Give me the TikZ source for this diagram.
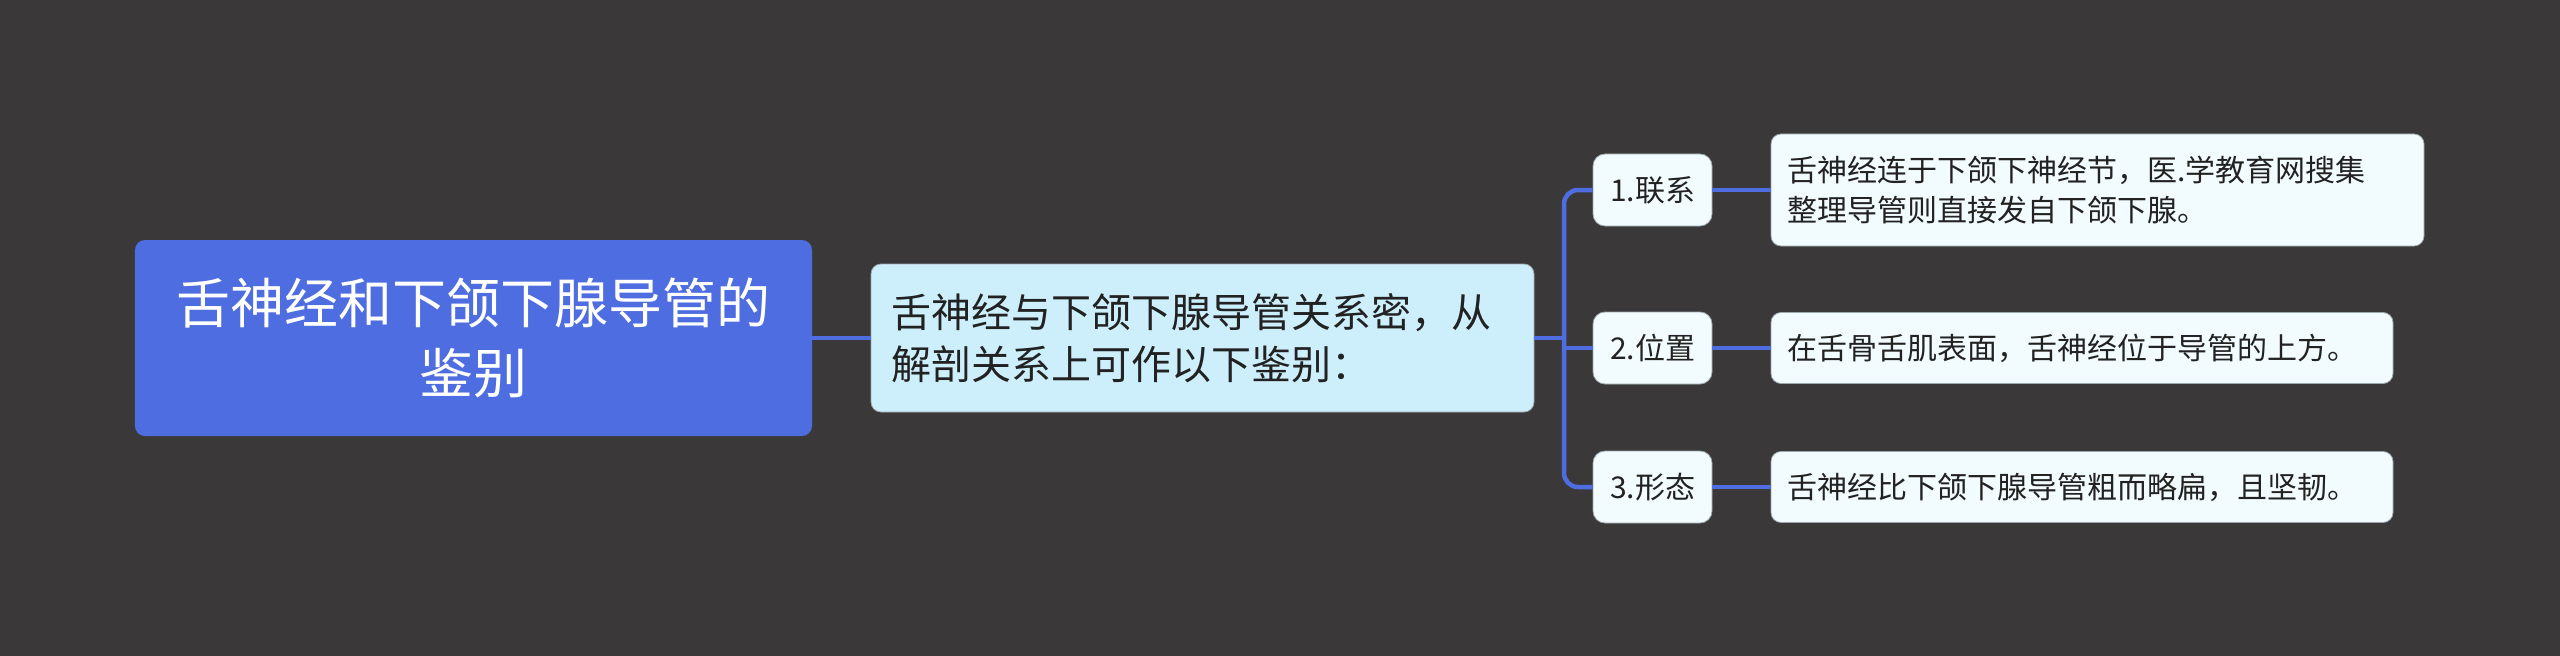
\documentclass[tikz,border=0pt]{standalone}
\usepackage{fontspec}
\setmainfont{Noto Sans CJK SC}
\definecolor{bg}{HTML}{3A3839}
\definecolor{rootblue}{HTML}{4E6DE0}
\definecolor{linkblue}{HTML}{4E6DE0}
\definecolor{childfill}{HTML}{CDEFFC}
\definecolor{leaffill}{HTML}{F2FBFE}
\definecolor{boxline}{HTML}{9AA8B0}
\definecolor{textdark}{HTML}{222222}
\begin{document}
\begin{tikzpicture}[x=1bp,y=-1bp,
  rootbox/.style={rectangle, rounded corners=10bp, fill=rootblue, text=white,
    minimum width=677bp, minimum height=196bp, inner sep=0pt, align=center,
    font=\fontsize{54bp}{70bp}\selectfont},
  childbox/.style={rectangle, rounded corners=10bp, fill=childfill, draw=boxline, line width=0.8bp,
    text=textdark, text width=623bp, inner xsep=20bp, inner ysep=0pt,
    minimum height=148bp, align=left, font=\fontsize{40bp}{52bp}\selectfont},
  labelbox/.style={rectangle, rounded corners=12bp, fill=leaffill, draw=boxline, line width=0.8bp,
    text=textdark, minimum width=119bp, minimum height=72bp, inner sep=0pt,
    font=\fontsize{30bp}{40bp}\selectfont},
  leafbox/.style={rectangle, rounded corners=10bp, fill=leaffill, draw=boxline, line width=0.8bp,
    text=textdark, inner xsep=16bp, inner ysep=0pt, align=left,
    font=\fontsize{30bp}{40bp}\selectfont},
  conn/.style={draw=linkblue, line width=4bp},
  branch/.style={draw=linkblue, line width=4.5bp}
]
\useasboundingbox[fill=bg] (0,0) rectangle (2560,656);

\node[rootbox] (root) at (473.5,338) {舌神经和下颌下腺导管的\\鉴别};
\node[childbox] (child) at (1202.5,338) {舌神经与下颌下腺导管关系密，从\\解剖关系上可作以下鉴别：};

\node[labelbox] (l1) at (1652.5,190) {1.联系};
\node[labelbox] (l2) at (1652.5,348) {2.位置};
\node[labelbox] (l3) at (1652.5,487) {3.形态};

\node[leafbox, text width=621bp, minimum height=112bp] (f1) at (2097.5,190) {舌神经连于下颌下神经节，医.学教育网搜集\\整理导管则直接发自下颌下腺。};
\node[leafbox, text width=590bp, minimum height=71bp] (f2) at (2082,348) {在舌骨舌肌表面，舌神经位于导管的上方。};
\node[leafbox, text width=590bp, minimum height=71bp] (f3) at (2082,487) {舌神经比下颌下腺导管粗而略扁，且坚韧。};

\coordinate (trunk) at (1564,338);

\draw[conn] (root.east) -- (child.west);
\draw[branch] (child.east) -- (trunk);
\draw[branch, rounded corners=14bp] (trunk) |- (l1.west);
\draw[branch, rounded corners=14bp] (trunk) |- (l3.west);
\draw[branch] (trunk) |- (l2.west);
\draw[branch] (l1.east) -- (f1.west);
\draw[branch] (l2.east) -- (f2.west);
\draw[branch] (l3.east) -- (f3.west);
\end{tikzpicture}
\end{document}
